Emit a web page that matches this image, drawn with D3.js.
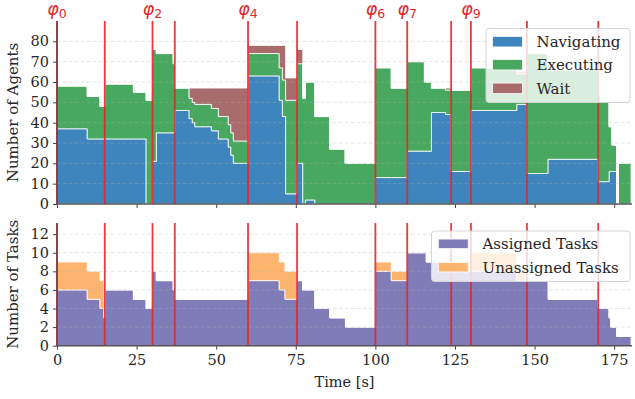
<!DOCTYPE html>
<html>
<head>
<meta charset="utf-8">
<script src="https://cdn.jsdelivr.net/npm/d3@7"></script>
<style>
    body { margin: 0; background: #fff; }
    text { font-family: 'DejaVu Serif', serif; fill: #262626; }
</style>
</head>
<body>
<div id="content"></div>
<script>
'use strict';

// agents: value holds from agentTimes[i] until the next time
var agentTimes = [0, 9.5, 13.5, 15, 24, 28, 30, 31.2, 36.5, 37, 41.5, 42.5, 43.3, 48.5, 50.7,
    53.8, 54.6, 55.4, 60, 69.8, 70.8, 71.8, 75.4, 77.2, 78, 81, 85.6, 90.5, 100, 105,
    110, 115.4, 117.6, 122, 123.8, 130, 144.4, 147.6, 154.2, 170, 173.4, 174.3, 175.8, 176.3];
var agentEnd = 180.3;
var navigating = [37, 32, 32, 32, 32, 0, 21, 35, 35, 46, 42, 40, 38, 36, 32,
    28, 24, 20, 63, 51, 43, 5, 20, 0, 2, 0, 0, 0, 13, 13,
    26, 26, 45, 44, 16, 46, 49, 15, 22, 11, 16, 16, 0, 0];
var executing = [21, 21, 16, 27, 23, 51, 55, 39, 34, 11, 10, 10, 11, 11, 11,
    11, 11, 11, 11, 16, 18, 46, 49, 52, 58, 43, 27, 20, 54, 44,
    44, 34, 12, 12, 40, 21, 15, 59, 44, 39, 22, 13, 0, 20];
var waiting = [0, 0, 0, 0, 0, 0, 0, 0, 0, 0, 5, 7, 8, 10, 14,
    18, 22, 26, 4, 11, 17, 11, 7, 0, 0, 0, 0, 0, 0, 0,
    0, 0, 0, 1, 0, 0, 1, 0, 0, 0, 0, 0, 0, 0];

// tasks
var taskTimes = [0, 9.5, 13.5, 14.7, 15, 24, 28, 30, 31.2, 36.5, 37, 60, 69.8, 71.6, 75.3,
    77.1, 81, 85.7, 90.6, 100, 105, 110, 116, 124, 130, 144.4, 147, 154.3, 170, 173.4,
    173.9, 175.8];
var taskEnd = 180.3;
var assignedTasks = [6, 5, 4, 3, 6, 5, 4, 8, 7, 6, 5, 7, 6, 5, 7,
    6, 4, 3, 2, 8, 7, 10, 9, 8, 8, 7, 7, 5, 4, 3,
    2, 1];
var unassignedTasks = [3, 3, 3, 1, 0, 0, 0, 0, 0, 0, 0, 3, 3, 3, 0,
    0, 0, 0, 0, 1, 1, 0, 0, 0, 2, 1, 0, 0, 0, 0,
    0, 0];

var phaseTimes = [0, 15, 30, 37, 60, 75.4, 100, 110, 123.8, 130, 147.6, 170];
var phaseLabels = ['0', '', '2', '', '4', '', '6', '7', '', '9', '', ''];

var agentTicks = [0, 10, 20, 30, 40, 50, 60, 70, 80];
var taskTicks = [0, 2, 4, 6, 8, 10, 12];
var timeTicks = [0, 25, 50, 75, 100, 125, 150, 175];

var agentKeys = ['Navigating', 'Executing', 'Wait'];
var taskKeys = ['Assigned Tasks', 'Unassigned Tasks'];
var colors = {
    'Navigating': '#3e85bd',
    'Executing': '#48a860',
    'Wait': '#a86c6c',
    'Assigned Tasks': '#807cb8',
    'Unassigned Tasks': '#fdb46e'
};

function stepRows(times, end, keys, series) {
    var rows = times.map(function (t, i) {
        var row = { t: t };
        keys.forEach(function (k, j) { row[k] = series[j][i]; });
        return row;
    });
    var last = Object.assign({}, rows[rows.length - 1]);
    last.t = end;
    rows.push(last);
    return rows;
}

function run() {
    var width = 635, height = 399;
    var svg = d3.select('#content').append('svg')
        .attr('width', width)
        .attr('height', height);

    var x = d3.scaleLinear().domain([0, 180.6]).range([57, 632]);

    var panels = [
        {
            y: d3.scaleLinear().domain([0, 90]).range([204, 21]),
            keys: agentKeys,
            rows: stepRows(agentTimes, agentEnd, agentKeys, [navigating, executing, waiting]),
            ticks: agentTicks,
            label: 'Number of Agents',
            showX: false,
            legend: { x: 486, y: 28.5, w: 144, h: 74, patchX: 6.5, textX: 50.5, rowY: [13.2, 36.2, 59.8], patchH: 10.5 }
        },
        {
            y: d3.scaleLinear().domain([0, 13.2]).range([345.7, 223]),
            keys: taskKeys,
            rows: stepRows(taskTimes, taskEnd, taskKeys, [assignedTasks, unassignedTasks]),
            ticks: taskTicks,
            label: 'Number of Tasks',
            showX: true,
            legend: { x: 431.5, y: 231, w: 198.5, h: 50.5, patchX: 6.8, textX: 51, rowY: [12.8, 36.2], patchH: 9.5 }
        }
    ];

    panels.forEach(function (p) {
        var y = p.y;
        var g = svg.append('g');
        var stacked = d3.stack().keys(p.keys)(p.rows);

        var area = d3.area()
            .curve(d3.curveStepAfter)
            .x(function (d) { return x(d.data.t); })
            .y0(function (d) { return y(d[0]); })
            .y1(function (d) { return y(d[1]); });

        g.selectAll('.area')
            .data(stacked)
            .enter()
            .append('path')
            .attr('class', 'area')
            .attr('d', area)
            .style('fill', function (d) { return colors[d.key]; })
            .style('stroke', '#fff')
            .style('stroke-width', 1)
            .style('stroke-opacity', 0.8);

        // grid on top of the areas, like matplotlib
        g.selectAll('.grid')
            .data(p.ticks.slice(1))
            .enter()
            .append('line')
            .attr('x1', x.range()[0])
            .attr('x2', x.range()[1])
            .attr('y1', function (d) { return y(d); })
            .attr('y2', function (d) { return y(d); })
            .style('stroke', '#b0b0b0')
            .style('stroke-opacity', 0.45)
            .style('stroke-width', 0.8)
            .style('stroke-dasharray', '3.5,2.5');

        // phase lines
        g.selectAll('.phase')
            .data(phaseTimes)
            .enter()
            .append('line')
            .attr('x1', function (d) { return x(d); })
            .attr('x2', function (d) { return x(d); })
            .attr('y1', y.range()[1])
            .attr('y2', y.range()[0])
            .style('stroke', '#e3262b')
            .style('stroke-opacity', 0.9)
            .style('stroke-width', 1.8);

        // y axis
        var yAxis = g.append('g')
            .attr('transform', 'translate(' + x.range()[0] + ' 0)')
            .call(d3.axisLeft(y).tickValues(p.ticks).tickSize(4).tickPadding(4).tickFormat(d3.format('d')));
        yAxis.select('.domain').remove();
        yAxis.selectAll('line').style('stroke', '#444').style('stroke-width', 1);
        yAxis.selectAll('text')
            .style('font-family', "'DejaVu Serif', serif")
            .style('font-size', '14.5px')
            .style('fill', '#262626');

        g.append('line')
            .attr('x1', x.range()[0]).attr('x2', x.range()[0])
            .attr('y1', y.range()[1]).attr('y2', y.range()[0])
            .style('stroke', '#444').style('stroke-width', 1.2);

        // x axis
        var xAxis = g.append('g')
            .attr('transform', 'translate(0 ' + y.range()[0] + ')')
            .call(d3.axisBottom(x).tickValues(timeTicks).tickSize(4).tickPadding(5)
                .tickFormat(p.showX ? d3.format('d') : ''));
        xAxis.select('.domain').remove();
        xAxis.selectAll('line').style('stroke', '#444').style('stroke-width', 1);
        xAxis.selectAll('text')
            .style('font-family', "'DejaVu Serif', serif")
            .style('font-size', '14.5px')
            .style('fill', '#262626');

        g.append('line')
            .attr('x1', x.range()[0]).attr('x2', x.range()[1])
            .attr('y1', y.range()[0]).attr('y2', y.range()[0])
            .style('stroke', '#555').style('stroke-width', 1.5);

        g.append('text')
            .attr('transform', 'translate(17.5 ' + (y.range()[0] + y.range()[1]) / 2 + ') rotate(-90)')
            .attr('text-anchor', 'middle')
            .style('font-size', '15px')
            .text(p.label);

        // legend
        var L = p.legend;
        var legend = svg.append('g')
            .attr('transform', 'translate(' + L.x + ' ' + L.y + ')');
        legend.append('rect')
            .attr('width', L.w)
            .attr('height', L.h)
            .attr('rx', 3)
            .style('fill', '#fff')
            .style('fill-opacity', 0.8)
            .style('stroke', '#d5d5d5')
            .style('stroke-width', 1);
        var item = legend.selectAll('.item')
            .data(p.keys)
            .enter()
            .append('g')
            .attr('transform', function (d, i) { return 'translate(0 ' + L.rowY[i] + ')'; });
        item.append('rect')
            .attr('x', L.patchX)
            .attr('y', -L.patchH / 2)
            .attr('width', 30)
            .attr('height', L.patchH)
            .style('fill', function (d) { return colors[d]; })
            .style('stroke', '#fff')
            .style('stroke-opacity', 0.8);
        item.append('text')
            .attr('x', L.textX)
            .attr('dy', '0.36em')
            .style('font-size', '15px')
            .text(function (d) { return d; });
    });

    // phase labels
    var labels = svg.selectAll('.phase-label')
        .data(phaseTimes.map(function (t, i) { return { t: t, label: phaseLabels[i] }; })
            .filter(function (d) { return d.label !== ''; }))
        .enter()
        .append('text')
        .attr('x', function (d) { return x(d.t); })
        .attr('y', 15)
        .attr('text-anchor', 'middle')
        .style('fill', '#e3262b');
    labels.append('tspan')
        .style('font-family', "'DejaVu Sans', sans-serif")
        .style('font-style', 'italic')
        .style('font-size', '17.5px')
        .style('fill', '#e3262b')
        .text('\u03c6');
    labels.append('tspan')
        .attr('dy', 2.5)
        .style('font-family', "'DejaVu Sans', sans-serif")
        .style('font-size', '12.5px')
        .style('fill', '#e3262b')
        .text(function (d) { return d.label; });

    svg.append('text')
        .attr('x', (x.range()[0] + x.range()[1]) / 2)
        .attr('y', 387)
        .attr('text-anchor', 'middle')
        .style('font-size', '14.5px')
        .text('Time [s]');
}

document.addEventListener('DOMContentLoaded', run);
</script>
</body>
</html>
